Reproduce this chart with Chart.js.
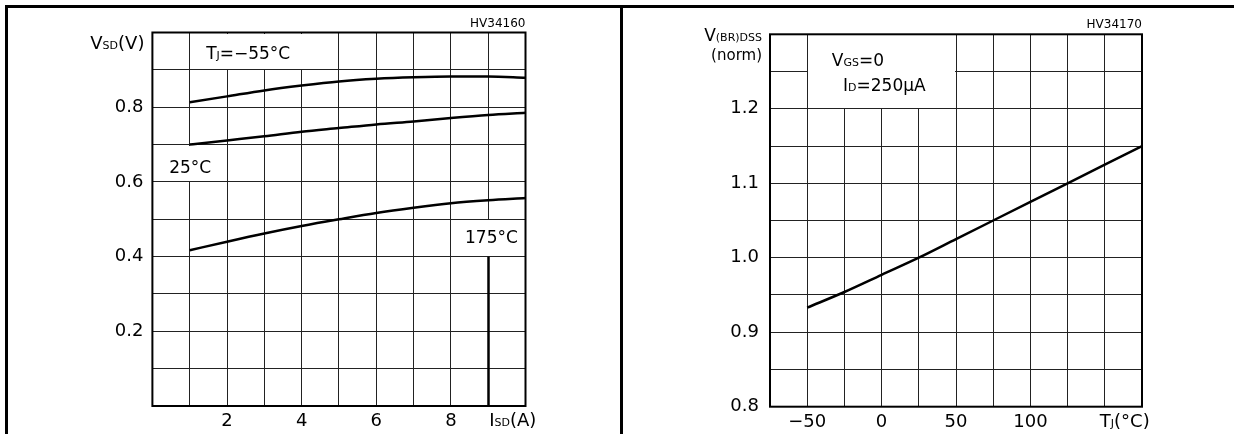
<!DOCTYPE html>
<html>
<head>
<meta charset="utf-8">
<script src="https://cdn.jsdelivr.net/npm/chart.js@4.4.1/dist/chart.umd.min.js"></script>
<style>
  html, body { margin: 0; padding: 0; background: #fff; }
  #wrap { position: relative; width: 1234px; height: 434px; overflow: hidden; background: #fff; }
  .rule { position: absolute; background: #000; }
  .pane { position: absolute; top: 0; height: 434px; }
</style>
</head>
<body>
<div id="wrap">
  <div class="rule" style="left:5px;top:5px;width:1229px;height:2.5px"></div>
  <div class="rule" style="left:5px;top:5px;width:2.5px;height:429px"></div>
  <div class="rule" style="left:620px;top:5px;width:2.5px;height:429px"></div>
  <div class="pane" style="left:0;width:620px"><canvas id="chartVsd"></canvas></div>
  <div class="pane" style="left:620px;width:614px"><canvas id="chartVbr"></canvas></div>
</div>
<script>
// datos
const isd = [1, 2, 3, 4, 5, 6, 7, 8, 9, 10];
const vsdM55 = [0.813, 0.829, 0.845, 0.858, 0.869, 0.876, 0.880, 0.882, 0.882, 0.879];
const vsd25 = [0.700, 0.711, 0.722, 0.734, 0.744, 0.754, 0.762, 0.771, 0.779, 0.785];
const vsd175 = [0.417, 0.440, 0.462, 0.482, 0.500, 0.517, 0.531, 0.543, 0.551, 0.557];
const isdLimit = [9, 0, 0.4]; // x, y desde, y hasta

const tj = [-50, -25, 0, 25, 50, 75, 100, 125, 150, 175];
const vbr = [0.933, 0.954, 0.977, 1.000, 1.025, 1.050, 1.075, 1.100, 1.125, 1.150];

const isdTicks = [2, 4, 6, 8];
const vsdTicks = [0.2, 0.4, 0.6, 0.8];
const tjTicks = [-50, 0, 50, 100];
const vbrTicks = [0.8, 0.9, 1.0, 1.1, 1.2];

const FONT = "DejaVu Sans";
const ink = "#000";

function pts(xs, ys) {
  return xs.map((x, i) => ({ x: x, y: ys[i] }));
}

// texto con subindices tipo versalita
function rich(ctx, x, y, parts, align) {
  let w = 0;
  parts.forEach(p => { ctx.font = p[1] + "px '" + FONT + "'"; w += ctx.measureText(p[0]).width; });
  let cx = align === "right" ? x - w : x;
  ctx.textBaseline = "alphabetic";
  ctx.textAlign = "left";
  parts.forEach(p => {
    ctx.font = p[1] + "px '" + FONT + "'";
    ctx.fillText(p[0], cx, y);
    cx += ctx.measureText(p[0]).width;
  });
}

function line(ctx, x1, y1, x2, y2, w) {
  ctx.lineWidth = w;
  ctx.beginPath();
  ctx.moveTo(x1, y1);
  ctx.lineTo(x2, y2);
  ctx.stroke();
}

// plugin: cajas blancas para las leyendas, textos y marco
function sheetPlugin(cfg) {
  return {
    id: "sheet",
    beforeDatasetsDraw(chart) {
      const { ctx, scales: { x, y } } = chart;
      ctx.save();
      ctx.fillStyle = "#fff";
      cfg.boxes.forEach(b => {
        const l = Math.round(x.getPixelForValue(b[0])) + 1;
        const r = Math.round(x.getPixelForValue(b[1])) - 1;
        const t = Math.round(y.getPixelForValue(b[3])) + 1;
        const bt = Math.round(y.getPixelForValue(b[2])) - 1;
        ctx.fillRect(l, t, r - l, bt - t);
      });
      ctx.fillStyle = ink;
      cfg.notes.forEach(n => {
        rich(ctx, x.getPixelForValue(n.x), y.getPixelForValue(n.y) + 6, n.parts, "left");
      });
      ctx.restore();
    },
    afterDraw(chart) {
      const { ctx, chartArea: a, scales: { x, y } } = chart;
      ctx.save();
      ctx.strokeStyle = ink;
      ctx.fillStyle = ink;
      ctx.lineWidth = 2;
      ctx.strokeRect(a.left, a.top, a.right - a.left, a.bottom - a.top);
      if (cfg.limit) {
        const px = Math.round(x.getPixelForValue(cfg.limit[0])) + 0.5;
        line(ctx, px, y.getPixelForValue(cfg.limit[1]), px, y.getPixelForValue(cfg.limit[2]), 2.5);
      }
      // codigo de figura
      ctx.font = "12px '" + FONT + "'";
      ctx.textAlign = "right";
      ctx.textBaseline = "middle";
      ctx.fillText(cfg.code, a.right, a.top - 9);
      // titulo eje y
      cfg.yTitle.forEach(t => rich(ctx, a.left - 8, a.top + t.dy, t.parts, "right"));
      // titulo eje x
      rich(ctx, x.getPixelForValue(cfg.xTitle.x) + cfg.xTitle.dx, a.bottom + 20, cfg.xTitle.parts, "left");
      ctx.restore();
    }
  };
}

function axisOpts(min, max, step, shown, fmt, pad, fit) {
  return {
    type: "linear",
    min: min,
    max: max,
    grid: { color: "#222", lineWidth: 1, drawTicks: false },
    border: { display: false },
    ticks: {
      stepSize: step,
      autoSkip: false,
      maxRotation: 0,
      padding: pad,
      color: ink,
      font: { family: FONT, size: 18 },
      callback: v => shown.some(s => Math.abs(s - v) < 1e-6) ? fmt(v) : ""
    },
    afterFit: fit
  };
}

function lineSet(data) {
  return {
    data: data,
    borderColor: ink,
    borderWidth: 2.5,
    pointRadius: 0,
    fill: false,
    cubicInterpolationMode: "monotone"
  };
}

const baseOpts = {
  responsive: true,
  maintainAspectRatio: false,
  animation: false,
  plugins: { legend: { display: false }, tooltip: { enabled: false } },
};

// ===== GRAFICO 1: VSD vs ISD =====
new Chart(document.getElementById("chartVsd"), {
  type: "line",
  data: {
    datasets: [
      lineSet(pts(isd, vsdM55)),
      lineSet(pts(isd, vsd25)),
      lineSet(pts(isd, vsd175))
    ]
  },
  options: Object.assign({}, baseOpts, {
    layout: { padding: { left: 0, right: 94.5, top: 32.5, bottom: 0 } },
    scales: {
      x: axisOpts(0, 10, 1, isdTicks, v => String(v), 5, s => { s.height = 28; }),
      y: axisOpts(0, 1, 0.1, vsdTicks, v => v.toFixed(1), 9, s => { s.width = 152.4; })
    }
  }),
  plugins: [sheetPlugin({
    boxes: [[1, 5, 0.9, 1.0], [0, 2, 0.6, 0.7], [8, 10, 0.4, 0.5]],
    notes: [
      { x: 1.44, y: 0.944, parts: [["T", 17], ["J", 11], ["=\u221255\u00b0C", 17]] },
      { x: 0.45, y: 0.641, parts: [["25\u00b0C", 17]] },
      { x: 8.38, y: 0.453, parts: [["175\u00b0C", 17]] }
    ],
    limit: isdLimit,
    code: "HV34160",
    yTitle: [{ dy: 16, parts: [["V", 18], ["SD", 11], ["(V)", 18]] }],
    xTitle: { x: 9, dx: 1, parts: [["I", 18], ["SD", 11], ["(A)", 18]] }
  })]
});

// ===== GRAFICO 2: V(BR)DSS normalizada vs TJ =====
new Chart(document.getElementById("chartVbr"), {
  type: "line",
  data: { datasets: [lineSet(pts(tj, vbr))] },
  options: Object.assign({}, baseOpts, {
    layout: { padding: { left: 0, right: 92, top: 34.3, bottom: 0 } },
    scales: {
      x: axisOpts(-75, 175, 25, tjTicks, v => String(v).replace("-", "\u2212"), 5, s => { s.height = 27.3; }),
      y: axisOpts(0.8, 1.3, 0.05, vbrTicks, v => v.toFixed(1), 11, s => { s.width = 150; })
    }
  }),
  plugins: [sheetPlugin({
    boxes: [[-50, 50, 1.2, 1.3]],
    notes: [
      { x: -33.5, y: 1.266, parts: [["V", 17], ["GS", 11], ["=0", 17]] },
      { x: -25.9, y: 1.232, parts: [["I", 17], ["D", 11], ["=250\u00b5A", 17]] }
    ],
    limit: null,
    code: "HV34170",
    yTitle: [
      { dy: 7, parts: [["V", 17], ["(BR)DSS", 11]] },
      { dy: 26, parts: [["(norm)", 15]] }
    ],
    xTitle: { x: 150, dx: -5, parts: [["T", 18], ["J", 11], ["(\u00b0C)", 18]] }
  })]
});
</script>
</body>
</html>
